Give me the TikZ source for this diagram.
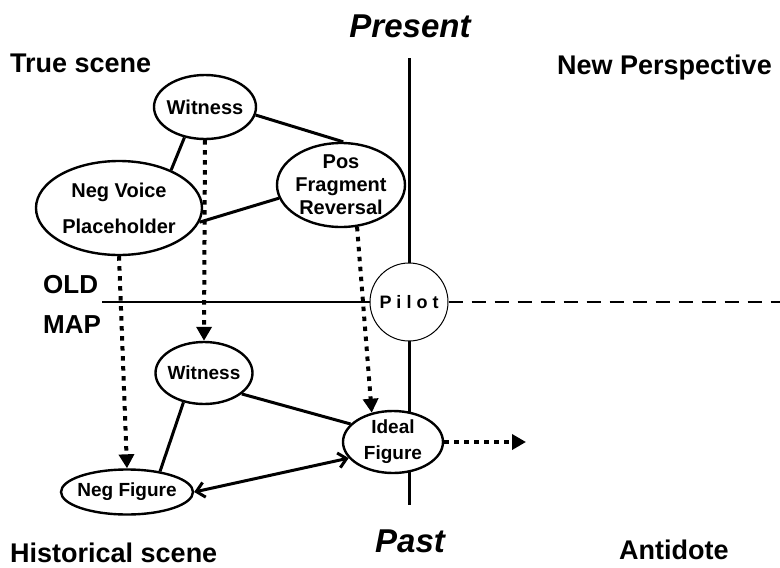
\documentclass[tikz,border=0pt]{standalone}
\usepackage{fontspec}
\setmainfont{Liberation Sans}
\usetikzlibrary{arrows.meta, positioning, shapes.geometric}

\begin{document}
\begin{tikzpicture}[
  x=1pt, y=-1pt,
  oval/.style={ellipse, draw, line width=2.4pt, fill=white, inner sep=-5pt,
               align=center, font=\fontsize{20}{23}\selectfont\bfseries},
  small/.style={font=\fontsize{19}{26}\selectfont\bfseries},
  link/.style={line width=3pt},
  drop/.style={line width=4pt, dash pattern=on 4.5pt off 5.5pt,
               -{Triangle[length=14pt, width=15pt]}},
  both/.style={line width=3pt,
               {Straight Barb[length=8pt, width=15pt]}-{Straight Barb[length=8pt, width=15pt]}},
  lbl/.style={inner sep=0pt, anchor=base west, font=\fontsize{27}{30}\selectfont\bfseries},
  tense/.style={inner sep=0pt, anchor=base, font=\fontsize{33}{36}\selectfont\bfseries\itshape}
]
\useasboundingbox (0,0) rectangle (780,568);

% time axis
\coordinate (axtop) at (409,58);
\coordinate (axbot) at (409,505);
\draw[line width=3pt] (axtop) -- (axbot);

\node[tense] (present) at (410,37) {Present};
\node[tense] (past) at (410,552) {Past};

\node[lbl] (truescene) at (10,72) {True scene};
\node[lbl] (newpersp) at (557,74) {New Perspective};
\node[lbl, font=\fontsize{26}{30}\selectfont\bfseries] (old) at (43,293) {OLD};
\node[lbl, font=\fontsize{26}{30}\selectfont\bfseries] (map) at (43,333) {MAP};
\node[lbl] (histscene) at (10,562) {Historical scene};
\node[lbl] (antidote) at (619,559) {Antidote};

% upper scene
\node[oval, minimum width=102pt, minimum height=64pt] (witnessA) at (205,107) {Witness};
\node[oval, minimum width=166pt, minimum height=94pt,
      font=\fontsize{20}{36}\selectfont\bfseries] (negvoice) at (119,208) {Neg Voice\\Placeholder};
\node[oval, minimum width=128pt, minimum height=84pt] (posfrag) at (341,185) {Pos\\Fragment\\Reversal};

% lower scene
\node[oval, small, minimum width=97pt, minimum height=62pt] (witnessB) at (204,373) {Witness};
\node[oval, small, minimum width=100pt, minimum height=62pt] (ideal) at (393,442) {Ideal\\Figure};
\node[oval, small, minimum width=132pt, minimum height=45pt] (negfig) at (127,492) {Neg Figure};

% old map line through the pilot
\node[circle, draw, line width=1pt, fill=white, minimum size=78pt, inner sep=-6pt,
      font=\fontsize{18}{20}\selectfont\bfseries] (pilot) at (409,302) {P i l o t};
\coordinate (mapleft) at (102,302);
\coordinate (mapright) at (780,302);
\draw[line width=2.8pt] (mapleft) -- (pilot.west);
\draw[line width=2.5pt, dash pattern=on 14pt off 9pt] (pilot.east) -- (mapright);

\draw[link] (witnessA.-124) -- (negvoice.36);
\draw[link] (witnessA.-9) -- (posfrag.87);
\draw[link] (negvoice.-10) -- (posfrag.-168);
\draw[link] (witnessB.-125) -- (negfig.32);
\draw[link] (witnessB.-29) -- (ideal.157);
\draw[both] (negfig.east) -- (ideal.200);

\draw[drop] (witnessA.south) -- (witnessB.north);
\draw[drop] (negvoice.south) -- (negfig.north);
\draw[drop] (posfrag.-69) -- (ideal.126);
\coordinate (antidoteout) at (526,442);
\draw[drop] (ideal.east) -- (antidoteout);

\end{tikzpicture}
\end{document}
